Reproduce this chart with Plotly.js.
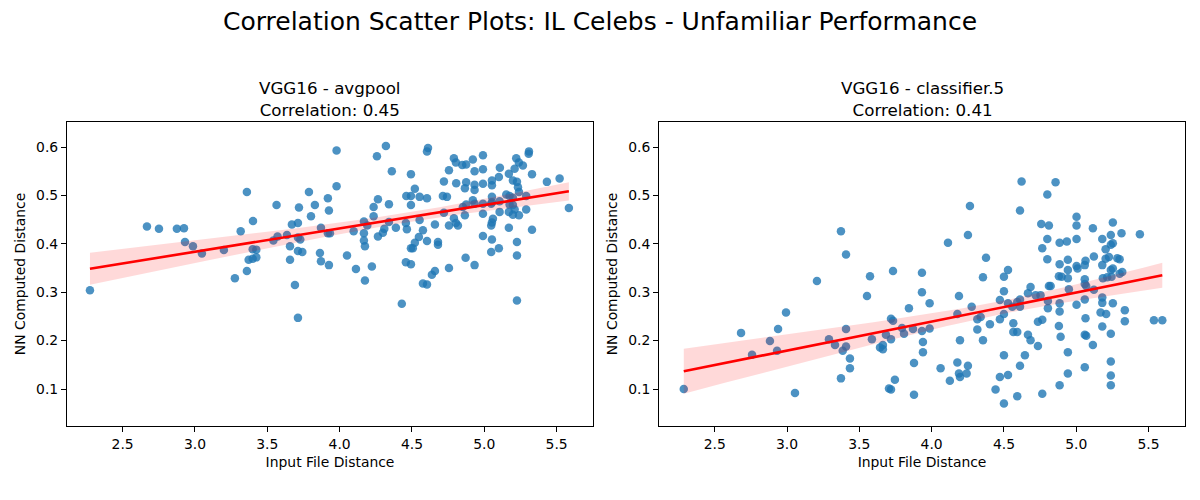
<!DOCTYPE html>
<html>
<head>
<meta charset="utf-8">
<script src="https://cdn.plot.ly/plotly-3.0.1.min.js"></script>
<style>html,body{margin:0;padding:0;background:#fff;}#chart{width:1200px;height:500px;}</style>
</head>
<body>
<div id="chart"></div>
<script>
// ---- data: VGG16 - avgpool ----
const avgpoolX = [
2.274,2.668,2.751,2.875,2.924,2.931,2.986,3.048,3.200,3.276,3.359,3.359,3.316,3.401,3.399,3.424,3.371,3.399,3.424,3.564,3.542,3.571,3.636,3.670,3.712,3.719,3.788,3.829,3.802,3.657,3.657,3.712,3.728,3.712,3.742,3.691,3.712,3.871,3.864,3.871,3.926,3.919,3.926,3.919,3.933,3.979,3.979,
4.320,4.258,4.361,4.611,4.604,4.493,4.790,4.804,4.756,4.848,4.875,4.721,4.806,4.875,4.866,4.520,4.461,4.493,4.553,4.604,4.493,4.265,4.235,4.341,4.235,4.168,4.191,4.097,4.168,4.168,4.175,4.265,4.299,4.309,4.341,4.389,4.458,4.465,4.553,4.576,4.548,4.520,4.506,4.493,4.604,4.659,4.714,4.742,4.721,4.756,4.790,4.804,4.818,4.866,4.680,4.680,4.051,4.113,4.223,4.175,4.458,4.493,4.659,4.638,4.576,4.604,4.756,4.871,4.430,
4.991,4.921,4.933,4.991,5.108,5.101,5.170,5.221,5.239,5.267,5.309,5.307,5.330,5.210,5.198,5.226,5.233,5.240,5.433,5.521,5.585,4.933,4.933,4.991,5.053,5.053,4.921,4.933,4.991,4.875,4.852,5.053,5.053,5.106,5.152,5.175,5.198,5.290,5.175,5.198,5.210,5.170,5.198,5.240,5.290,5.106,5.048,4.991,5.060,5.053,5.048,5.170,5.330,4.991,5.053,5.101,5.048,5.226,5.226,4.933,5.226
];
const avgpoolY = [
0.304,0.436,0.431,0.431,0.432,0.404,0.395,0.380,0.387,0.329,0.507,0.344,0.426,0.447,0.389,0.388,0.367,0.369,0.372,0.480,0.407,0.415,0.418,0.440,0.443,0.475,0.507,0.480,0.457,0.395,0.367,0.413,0.409,0.385,0.383,0.315,0.247,0.433,0.381,0.364,0.356,0.494,0.469,0.422,0.422,0.593,0.519,
0.602,0.581,0.550,0.598,0.591,0.544,0.577,0.568,0.552,0.563,0.564,0.529,0.525,0.527,0.515,0.514,0.499,0.499,0.497,0.494,0.480,0.492,0.476,0.482,0.457,0.446,0.438,0.426,0.422,0.407,0.395,0.415,0.423,0.431,0.445,0.433,0.443,0.430,0.449,0.428,0.414,0.402,0.391,0.391,0.406,0.440,0.499,0.497,0.464,0.438,0.453,0.443,0.438,0.459,0.404,0.398,0.376,0.348,0.353,0.324,0.362,0.358,0.344,0.336,0.318,0.316,0.350,0.371,0.276,
0.583,0.574,0.550,0.554,0.557,0.538,0.545,0.577,0.568,0.562,0.591,0.586,0.544,0.555,0.531,0.528,0.517,0.507,0.528,0.535,0.474,0.522,0.511,0.524,0.531,0.521,0.490,0.483,0.483,0.481,0.476,0.497,0.486,0.488,0.502,0.499,0.495,0.499,0.481,0.480,0.471,0.466,0.460,0.459,0.471,0.466,0.483,0.462,0.452,0.444,0.438,0.433,0.429,0.416,0.409,0.391,0.383,0.404,0.376,0.356,0.283
];

// ---- data: VGG16 - classifier.5 ----
const classifierX = [
2.286,2.682,2.758,2.882,2.931,2.938,2.993,3.055,3.207,3.290,3.332,3.373,3.408,3.408,3.408,3.385,3.435,3.435,3.373,3.553,3.574,3.587,3.643,3.663,3.663,3.684,3.719,3.719,3.733,3.733,3.705,3.719,3.746,3.795,3.809,3.843,3.871,3.878,3.878,3.933,3.933,3.933,3.940,3.940,3.986,3.986,
4.113,4.265,4.251,4.376,4.355,4.189,4.178,4.277,4.316,4.339,4.316,4.403,4.196,4.355,4.062,4.126,4.178,4.189,4.196,4.242,4.251,4.472,4.472,4.500,4.500,4.528,4.500,4.528,4.558,4.592,4.611,4.611,4.565,4.565,4.592,4.500,4.472,4.528,4.442,4.500,4.592,4.611,4.645,4.666,4.684,4.735,4.622,4.611,4.684,4.666,4.719,4.753,4.735,4.765,4.765,4.800,4.758,4.811,4.765,4.800,4.800,4.811,4.804,4.804,
4.857,4.885,4.935,5.002,5.002,5.002,5.115,5.180,5.253,5.239,5.253,5.239,5.313,5.440,5.203,5.226,5.203,5.284,5.300,5.122,5.064,5.059,4.942,4.885,4.942,5.002,5.009,5.180,5.239,5.253,5.318,5.300,4.880,4.899,4.942,5.059,5.059,5.069,5.184,5.214,5.244,4.823,4.949,5.122,4.885,4.885,5.002,5.059,5.180,5.180,5.253,5.336,5.336,5.168,5.207,5.064,4.880,4.892,5.059,5.069,5.180,5.239,5.115,4.942,5.239,5.059,4.942,5.239,5.239,4.885,5.537,5.595
];
const classifierY = [
0.100,0.216,0.171,0.199,0.179,0.224,0.258,0.092,0.323,0.203,0.191,0.426,0.378,0.224,0.188,0.179,0.163,0.143,0.122,0.292,0.333,0.203,0.186,0.182,0.191,0.212,0.203,0.245,0.241,0.344,0.101,0.099,0.119,0.226,0.214,0.267,0.224,0.154,0.088,0.340,0.300,0.220,0.197,0.176,0.277,0.225,
0.402,0.478,0.418,0.371,0.331,0.292,0.255,0.270,0.244,0.249,0.223,0.234,0.201,0.201,0.143,0.117,0.155,0.132,0.125,0.132,0.148,0.284,0.244,0.302,0.332,0.346,0.255,0.277,0.270,0.280,0.285,0.270,0.236,0.218,0.218,0.170,0.125,0.129,0.099,0.070,0.085,0.148,0.170,0.212,0.201,0.189,0.529,0.469,0.311,0.298,0.294,0.294,0.239,0.243,0.090,0.502,0.441,0.438,0.391,0.410,0.368,0.313,0.282,0.267,
0.527,0.402,0.405,0.456,0.438,0.410,0.432,0.410,0.444,0.418,0.401,0.398,0.422,0.420,0.389,0.373,0.369,0.370,0.368,0.374,0.365,0.356,0.367,0.358,0.346,0.354,0.349,0.356,0.346,0.349,0.342,0.338,0.333,0.332,0.329,0.327,0.317,0.313,0.329,0.331,0.332,0.313,0.306,0.305,0.277,0.260,0.274,0.285,0.289,0.278,0.277,0.263,0.240,0.258,0.255,0.246,0.230,0.208,0.212,0.210,0.229,0.214,0.191,0.176,0.157,0.145,0.132,0.128,0.108,0.108,0.242,0.242
];

const subplotTitles = ["VGG16 - avgpool<br>Correlation: 0.45", "VGG16 - classifier.5<br>Correlation: 0.41"];
const mainTitle = "Correlation Scatter Plots: IL Celebs - Unfamiliar Performance";
const xLabel = "Input File Distance";
const yLabel = "NN Computed Distance";

// ---- regression with 95% CI ----
function regress(xs, ys) {
  const n = xs.length;
  const mx = xs.reduce((a,b)=>a+b,0)/n, my = ys.reduce((a,b)=>a+b,0)/n;
  let sxx=0, sxy=0;
  for (let i=0;i<n;i++){ sxx+=(xs[i]-mx)**2; sxy+=(xs[i]-mx)*(ys[i]-my); }
  const b = sxy/sxx, a = my - b*mx;
  let sse=0; for (let i=0;i<n;i++){ sse+=(ys[i]-a-b*xs[i])**2; }
  const s = Math.sqrt(sse/(n-2)), t = 1.973;
  const lo = Math.min(...xs), hi = Math.max(...xs);
  const gx=[], gy=[], up=[], dn=[];
  for (let k=0;k<=100;k++){
    const x = lo + (hi-lo)*k/100;
    const y = a + b*x;
    const se = s*Math.sqrt(1/n + (x-mx)**2/sxx);
    gx.push(x); gy.push(y); up.push(y+t*se); dn.push(y-t*se);
  }
  return {gx, gy, up, dn};
}

const traces = [];
[[avgpoolX, avgpoolY, 'x', 'y'], [classifierX, classifierY, 'x2', 'y2']].forEach(([xs, ys, xa, ya]) => {
  const r = regress(xs, ys);
  traces.push({type:'scatter', mode:'markers', x:xs, y:ys, xaxis:xa, yaxis:ya,
    marker:{color:'#1f77b4', opacity:0.8, size:8.5, line:{width:0}}, hoverinfo:'skip'});
  traces.push({type:'scatter', mode:'lines', x:r.gx.concat(r.gx.slice().reverse()),
    y:r.up.concat(r.dn.slice().reverse()), fill:'toself', fillcolor:'rgba(255,0,0,0.15)',
    line:{width:0}, xaxis:xa, yaxis:ya, hoverinfo:'skip'});
  traces.push({type:'scatter', mode:'lines', x:r.gx, y:r.gy, line:{color:'red', width:2.6},
    xaxis:xa, yaxis:ya, hoverinfo:'skip'});
});

const fam = 'DejaVu Sans, sans-serif';
function xax(domain, anchor){
  return {domain, anchor, range:[2.115,5.752], tickmode:'linear', tick0:0, dtick:0.5, tickformat:'.1f',
    showline:true, mirror:true, linecolor:'#000', linewidth:1, ticks:'outside', ticklen:5, tickcolor:'#000',
    showgrid:false, zeroline:false, tickfont:{size:13.9, family:fam, color:'#000'},
    title:{text:xLabel, font:{size:13.9, family:fam, color:'#000'}, standoff:6}};
}
function yax(anchor){
  return {domain:[0.148,0.756], anchor, range:[0.0236,0.6517], tickmode:'linear', tick0:0, dtick:0.1, tickformat:'.1f',
    showline:true, mirror:true, linecolor:'#000', linewidth:1, ticks:'outside', ticklen:5, tickcolor:'#000',
    showgrid:false, zeroline:false, tickfont:{size:13.9, family:fam, color:'#000'},
    title:{text:yLabel, font:{size:13.9, family:fam, color:'#000'}, standoff:7}};
}

const layout = {
  width:1200, height:500, showlegend:false,
  paper_bgcolor:'#fff', plot_bgcolor:'#fff',
  margin:{l:0, r:0, t:0, b:0},
  font:{family:fam, color:'#000'},
  title:{text:mainTitle, font:{size:25, family:fam, color:'#000'}, x:0.5, xanchor:'center',
    y:1-21/500, yref:'container', yanchor:'middle'},
  xaxis: xax([0.0558,0.4942],'y'),
  yaxis: yax('x'),
  xaxis2: xax([0.5492,0.9875],'y2'),
  yaxis2: yax('x2'),
  annotations: subplotTitles.map((t,i)=>({text:t, xref:'paper', yref:'paper',
    x: i===0 ? (0.0558+0.4942)/2 : (0.5492+0.9875)/2, y:0.756, yshift:0,
    xanchor:'center', yanchor:'bottom', showarrow:false, align:'center',
    font:{size:16.7, family:fam, color:'#000'}}))
};

Plotly.newPlot('chart', traces, layout, {staticPlot:true, displayModeBar:false});
</script>
</body>
</html>
